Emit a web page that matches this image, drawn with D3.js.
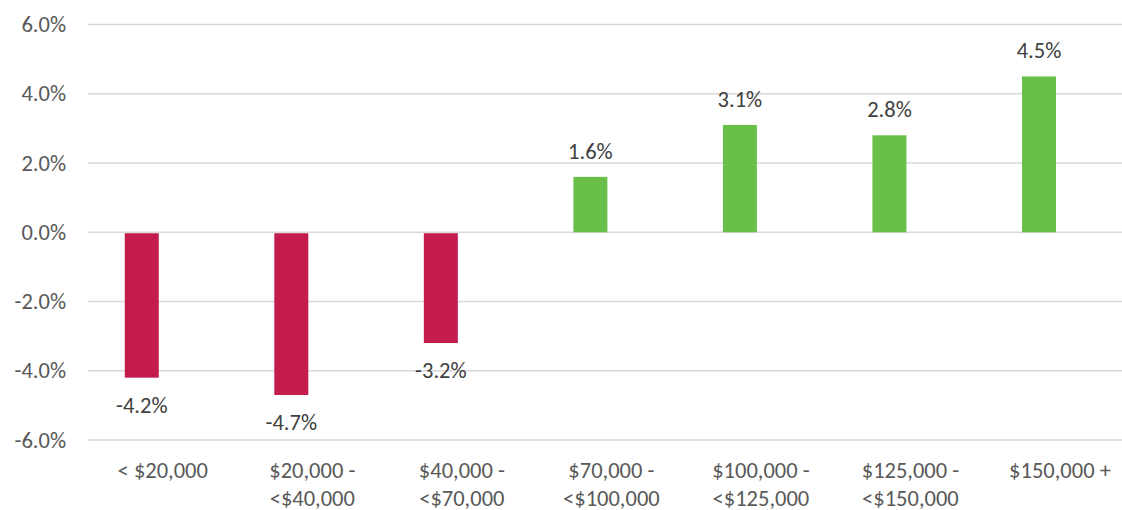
<!DOCTYPE html>
<html>
<head>
<meta charset="utf-8">
<script src="https://cdn.jsdelivr.net/npm/d3@7"></script>
<style>
  body { margin: 0; background: #fff; }
  svg text { font-family: Carlito, Calibri, "Open Sans", sans-serif; }
</style>
</head>
<body>
<script>
// data
const categories = ['< $20,000', '$20,000 - <$40,000', '$40,000 - <$70,000', '$70,000 - <$100,000',
                    '$100,000 - <$125,000', '$125,000 - <$150,000', '$150,000 +']
const category_lines = [['< $20,000'], ['$20,000 -', '<$40,000'], ['$40,000 -', '<$70,000'],
                        ['$70,000 -', '<$100,000'], ['$100,000 -', '<$125,000'],
                        ['$125,000 -', '<$150,000'], ['$150,000 +']]
const values = [-4.2, -4.7, -3.2, 1.6, 3.1, 2.8, 4.5]
const y_ticks = [-6, -4, -2, 0, 2, 4, 6]

// layout
const width = 1122, height = 510
const plot = {left: 88, right: 1134.75, top: 24.5, bottom: 440}
const bar_width = 34
const bar_offset = -21 // bar sits left of category centre (empty second series slot)
const font_size = '22.5px'

// hyphen instead of unicode minus, as in the original
const pct = (d) => d3.format('.1f')(d).replace('\u2212', '-') + '%'

const svg = d3.select('body').append('svg')
    .attr('width', width)
    .attr('height', height)

const x = d3.scaleBand()
    .domain(categories)
    .range([plot.left, plot.right])

const y = d3.scaleLinear()
    .domain([-6, 6])
    .range([plot.bottom, plot.top])

// gridlines
svg.append('g')
    .selectAll('line')
    .data(y_ticks)
    .enter()
    .append('line')
    .attr('x1', plot.left)
    .attr('x2', width)
    .attr('y1', d => y(d))
    .attr('y2', d => y(d))
    .style('stroke', '#d9d9d9')
    .style('stroke-width', 1.5)

// y tick labels
svg.append('g')
    .selectAll('text')
    .data(y_ticks)
    .enter()
    .append('text')
    .attr('x', 66)
    .attr('y', d => y(d))
    .attr('dy', '0.34em')
    .attr('text-anchor', 'end')
    .style('font-size', font_size)
    .style('fill', '#595959')
    .text(d => pct(d))

// bars
const bar_x = (c) => x(c) + x.bandwidth() / 2 + bar_offset
svg.append('g')
    .selectAll('rect')
    .data(values)
    .enter()
    .append('rect')
    .attr('x', (d, i) => bar_x(categories[i]) - bar_width / 2)
    .attr('width', bar_width)
    .attr('y', d => d >= 0 ? y(d) : y(0) + 1)
    .attr('height', d => d >= 0 ? y(0) - y(d) : y(d) - y(0) - 1)
    .style('fill', d => d >= 0 ? '#6abf4b' : '#c41c4c')

// data labels
svg.append('g')
    .selectAll('text')
    .data(values)
    .enter()
    .append('text')
    .attr('x', (d, i) => bar_x(categories[i]))
    .attr('y', d => d >= 0 ? y(d) - 18 : y(d) + 35)
    .attr('text-anchor', 'middle')
    .style('font-size', font_size)
    .style('fill', '#404040')
    .text(d => pct(d))

// category labels
const cat_labels = svg.append('g')
    .selectAll('text')
    .data(categories)
    .enter()
    .append('text')
    .attr('text-anchor', 'middle')
    .style('font-size', font_size)
    .style('fill', '#595959')
cat_labels.selectAll('tspan')
    .data((d, i) => category_lines[i].map(t => ({t: t, c: d})))
    .enter()
    .append('tspan')
    .attr('x', d => x(d.c) + x.bandwidth() / 2)
    .attr('y', (d, j) => 478 + j * 28)
    .text(d => d.t)
</script>
</body>
</html>
